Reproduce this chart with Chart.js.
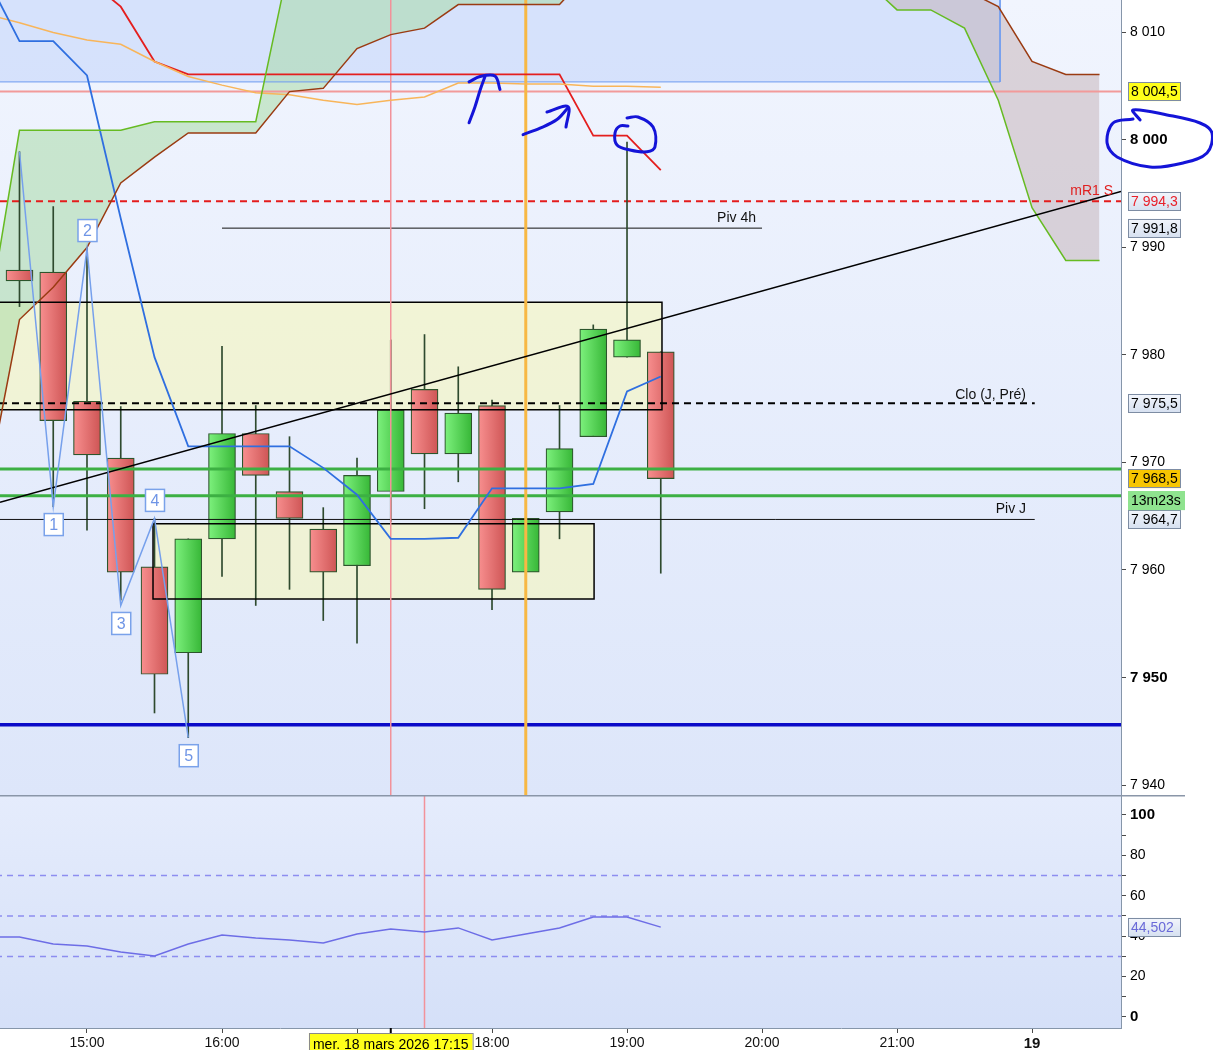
<!DOCTYPE html>
<html>
<head>
<meta charset="utf-8">
<script src="https://cdn.jsdelivr.net/npm/chart.js@4.4.1/dist/chart.umd.min.js"></script>
<style>
  html, body { margin: 0; padding: 0; background: #fff; }
  #wrap { position: relative; width: 1213px; height: 1050px; overflow: hidden; }
  #main { position: absolute; left: 0; top: 0; }
  #rsi { position: absolute; left: 0; top: 795px; }
</style>
</head>
<body>
<div id="wrap">
  <canvas id="main" width="1213" height="795"></canvas>
  <canvas id="rsi" width="1213" height="255"></canvas>
</div>
<script>
// ---- data (15 min candles, time in decimal hours) ----
const candleTimes = [14.5, 14.75, 15, 15.25, 15.5, 15.75, 16, 16.25, 16.5, 16.75, 17, 17.25, 17.5, 17.75, 18, 18.25, 18.5, 18.75, 19, 19.25];
const opens  = [7987.9, 7987.7, 7975.7, 7970.4, 7960.3, 7952.3, 7962.9, 7972.7, 7967.3, 7963.8, 7960.4, 7967.3, 7976.8, 7970.8, 7975.3, 7959.8, 7965.4, 7972.4, 7979.8, 7980.3];
const highs  = [7998.9, 7993.8, 7990.0, 7975.2, 7964.8, 7962.9, 7980.8, 7975.3, 7972.4, 7965.8, 7970.4, 7981.4, 7981.9, 7978.9, 7975.8, 7964.8, 7975.3, 7982.8, 7999.8, 7980.3];
const lows   = [7984.5, 7965.9, 7963.7, 7957.2, 7946.7, 7944.4, 7959.4, 7956.7, 7958.2, 7955.3, 7953.2, 7964.5, 7965.7, 7968.2, 7956.3, 7959.8, 7962.9, 7972.4, 7979.8, 7959.7];
const closes = [7986.9, 7973.9, 7970.7, 7959.8, 7950.3, 7962.9, 7972.7, 7968.8, 7964.8, 7959.8, 7968.8, 7974.9, 7970.8, 7974.6, 7958.2, 7964.8, 7971.3, 7982.4, 7981.4, 7968.5];

const indTimes = [14.25, 14.5, 14.75, 15, 15.25, 15.5, 15.75, 16, 16.25, 16.5, 16.75, 17, 17.25, 17.5, 17.75, 18, 18.25, 18.5, 18.75, 19, 19.25];
const kijun  = [8020, 8020, 8018, 8015, 8012.4, 8007.3, 8006.1, 8006.1, 8006.1, 8006.1, 8006.1, 8006.1, 8006.1, 8006.1, 8006.1, 8006.1, 8006.1, 8006.1, 8000.4, 8000.4, 7997.2];
const tenkan = [8015.3, 8009.2, 8009.2, 8006.0, 7992.7, 7979.8, 7971.5, 7971.5, 7971.5, 7971.5, 7969.5, 7967.0, 7962.9, 7962.9, 7963.0, 7967.6, 7967.6, 7967.6, 7968.0, 7976.6, 7978.0];
const avgLine = [8011.7, 8010.9, 8010.0, 8009.3, 8008.9, 8007.3, 8005.9, 8005.1, 8004.4, 8004.2, 8003.7, 8003.3, 8003.7, 8004.0, 8005.3, 8005.3, 8005.2, 8005.2, 8005.0, 8005.0, 8004.9];
const rsiValues = [39.6, 39.6, 36.1, 35.1, 32.2, 30.2, 36.1, 40.6, 39.1, 38.1, 36.6, 41.1, 43.6, 42.1, 44.1, 38.1, 41.1, 44.1, 49.5, 49.5, 44.5];

const cloudTimes = [14.25, 14.5, 14.75, 15, 15.25, 15.5, 15.75, 16, 16.25, 16.5, 16.75, 17, 17.25, 17.5, 17.75, 18, 18.25, 18.5, 18.75, 19, 19.25, 19.5, 19.75, 20, 20.25, 20.5, 20.75, 21, 21.25, 21.5, 21.75, 22, 22.25, 22.5];
const senkouA = [7982, 8000.9, 8000.9, 8000.9, 8000.9, 8001.7, 8001.7, 8001.7, 8001.7, 8016.6, 8020, 8022, 8022, 8022, 8022, 8022, 8022, 8022, 8022, 8022, 8022, 8020, 8020, 8020, 8018, 8017, 8015, 8012.1, 8012.1, 8010.4, 8003.7, 7993.7, 7988.8, 7988.8];
const senkouB = [7967, 7983.3, 7986.3, 7990.0, 7996.0, 7998.4, 8000.65, 8000.65, 8000.65, 8004.5, 8004.8, 8008.5, 8009.8, 8010.4, 8012.6, 8012.6, 8012.6, 8012.6, 8016, 8024, 8026, 8026, 8026, 8026, 8026, 8025, 8024, 8022, 8020, 8014, 8012.4, 8007.3, 8006.1, 8006.1];

// zigzag 1..5
const zigTimes = [14.5, 14.75, 15, 15.25, 15.5, 15.75];
const zigPrices = [7998.9, 7965.9, 7989.9, 7956.7, 7964.8, 7944.4];
const zigLabels = ['', '1', '2', '3', '4', '5'];

// levels
const levelR = 8004.5, levelMR1S = 7994.3, levelPiv4h = 7991.8, levelClo = 7975.5, levelPivJ = 7964.7;
const greenLevels = [7969.4, 7966.9];
const blueLevel = 7945.6;
const trendTimes = [14.3556, 22.659];
const trendPrices = [7966.3, 7995.2];
const upperZone = [7974.9, 7984.9];   // low, high, until 19:15
const lowerZone = [7957.3, 7964.3];   // low, high, 15:30 -> 18:45
const blueZoneBottom = 8005.4;

const priceTicks = [7940, 7950, 7960, 7970, 7980, 7990, 8000, 8010];
const rsiTicks = [0, 10, 20, 30, 40, 50, 60, 70, 80, 90, 100];
const rsiLevels = [70, 50, 30];
const timeTicks = [15, 16, 17, 18, 19, 20, 21, 22];

const tagValues = [8004.5, 7994.3, 7991.8, 7975.5, 7968.5, 7964.7];
const tagKinds  = ['yellow', 'red', 'plain', 'plain', 'gold', 'plain'];
const timerText = '13m23s';
const rsiLast = 44.502;
const cursorText = 'mer. 18 mars 2026 17:15';

// hand drawn marks (time, price)
const mark1 = [[17.830, 8001.6], [17.874, 8003.1], [17.911, 8004.6], [17.948, 8005.9]];
const mark1Head = [[17.830, 8005.4], [17.911, 8005.9], [18.022, 8005.95], [18.059, 8004.7]];
const mark2 = [[18.230, 8000.5], [18.356, 8001.1], [18.481, 8001.9], [18.563, 8003.0]];
const mark2Head = [[18.407, 8002.6], [18.563, 8003.1], [18.548, 8001.2]];
const markCircle = [[19.0, 8002.05], [19.081, 8002.14], [19.193, 8001.2], [19.207, 7999.35], [19.148, 7998.9], [19.022, 7999.07], [18.926, 7999.53], [18.911, 8000.65], [18.948, 8001.3], [19.007, 8001.3]];
const markEllipse = [[22.80, 8001.86], [22.748, 8002.79], [23.0, 8002.33], [23.244, 8001.58], [23.333, 8000.65], [23.296, 7998.79], [23.119, 7997.86], [22.874, 7997.49], [22.630, 7998.42], [22.556, 7999.72], [22.60, 8001.58], [22.748, 8001.95]];

// ---- helpers ----
const xMin = 14.3556, xMax = 22.659;
const FONT = '"Liberation Sans", Arial, sans-serif';
Chart.defaults.font.family = FONT;
Chart.defaults.color = '#000';

function fmt(v, dec) {
  const parts = v.toFixed(dec).split('.');
  parts[0] = parts[0].replace(/\B(?=(\d{3})+(?!\d))/g, ' ');
  return parts.join(',');
}
function pts(xs, ys) { return xs.map((x, i) => ({ x: x, y: ys[i] })); }
function pairs(arr) { return arr.map(p => ({ x: p[0], y: p[1] })); }
function line(data, style) {
  return Object.assign({ type: 'line', data: data, pointRadius: 0, fill: false, tension: 0 }, style);
}
function hline(v, x0, x1, style) { return line([{ x: x0, y: v }, { x: x1, y: v }], style); }
function vline(t, style) { return line([{ x: t, y: 7900 }, { x: t, y: 8050 }], style); }
function box(t0, t1, lo, hi) {
  return [{ x: t0, y: hi }, { x: t1, y: hi }, { x: t1, y: lo }, { x: t0, y: lo }, { x: t0, y: hi }];
}

function drawTag(ctx, x, y, w, text, kind) {
  const h = 19;
  let bg, fg = '#000', border = '#7d8ca3';
  if (kind === 'yellow') bg = '#ffff1a';
  else if (kind === 'gold') bg = '#f7c600';
  else if (kind === 'timer') { bg = '#8fe38f'; border = '#8fe38f'; }
  else {
    bg = ctx.createLinearGradient(0, y - h / 2, 0, y + h / 2);
    bg.addColorStop(0, '#f3f6fc');
    bg.addColorStop(1, '#d6e0f0');
  }
  if (kind === 'red') fg = '#e8202a';
  if (kind === 'rsi') fg = '#6a6ad8';
  ctx.save();
  ctx.fillStyle = bg;
  ctx.fillRect(x, y - h / 2, w, h);
  ctx.strokeStyle = border;
  ctx.lineWidth = 1;
  ctx.strokeRect(Math.round(x) + 0.5, Math.round(y - h / 2) + 0.5, w - 1, h - 1);
  ctx.fillStyle = fg;
  ctx.font = '14px ' + FONT;
  ctx.textAlign = 'left';
  ctx.textBaseline = 'middle';
  ctx.fillText(text, x + 3, y + 1);
  ctx.restore();
}

// ---- main price chart ----
const mainPlugin = {
  id: 'mainDecor',
  beforeDraw(chart) {
    const { ctx, chartArea: a } = chart;
    const g = ctx.createLinearGradient(0, a.top, 0, a.bottom);
    g.addColorStop(0, '#f1f5fe');
    g.addColorStop(1, '#dde6fa');
    ctx.save();
    ctx.fillStyle = g;
    ctx.fillRect(a.left, a.top, a.right - a.left, a.bottom - a.top);
    ctx.restore();
  },
  afterDraw(chart) {
    const { ctx, chartArea: a, scales } = chart;
    const xs = scales.x, ys = scales.y;
    ctx.save();
    ctx.font = '14px ' + FONT;
    ctx.textAlign = 'right';
    ctx.textBaseline = 'bottom';
    // level names
    ctx.fillStyle = '#e02020';
    ctx.fillText('mR1 S', a.right - 8, ys.getPixelForValue(levelMR1S) - 3);
    ctx.fillStyle = '#111';
    ctx.fillText('Piv 4h', xs.getPixelForValue(20.0) - 6, ys.getPixelForValue(levelPiv4h) - 3);
    ctx.fillText('Clo (J, Pré)', xs.getPixelForValue(22.0) - 6, ys.getPixelForValue(levelClo) - 1);
    ctx.fillText('Piv J', xs.getPixelForValue(22.0) - 6, ys.getPixelForValue(levelPivJ) - 3);

    // zigzag number boxes
    ctx.font = '16px ' + FONT;
    ctx.textAlign = 'center';
    ctx.textBaseline = 'middle';
    zigLabels.forEach((lab, i) => {
      if (!lab) return;
      const px = xs.getPixelForValue(zigTimes[i]);
      const prev = zigPrices[i - 1];
      const below = zigPrices[i] < prev;
      const py = ys.getPixelForValue(zigPrices[i]) + (below ? 18 : -18);
      ctx.fillStyle = '#fff';
      ctx.fillRect(px - 9, py - 11, 19, 22);
      ctx.strokeStyle = '#7aa2ea';
      ctx.lineWidth = 1.5;
      ctx.strokeRect(px - 9, py - 11, 19, 22);
      ctx.fillStyle = '#6f95e6';
      ctx.fillText(lab, px + 0.5, py + 1);
    });

    // price tags on the axis
    const tx = a.right + 7;
    tagValues.forEach((v, i) => {
      drawTag(ctx, tx, ys.getPixelForValue(v), 53, fmt(v, 1), tagKinds[i]);
    });
    drawTag(ctx, tx, ys.getPixelForValue(7968.5) + 22, 57, timerText, 'timer');
    ctx.restore();
  }
};

const bodyFill = (c) => {
  const chart = c.chart;
  const i = c.dataIndex;
  const up = closes[i] >= opens[i];
  const flat = up ? '#55d055' : '#e87070';
  if (i === undefined || !chart.scales || !chart.scales.x) return flat;
  const px = chart.scales.x.getPixelForValue(candleTimes[i]);
  if (!isFinite(px)) return flat;
  const g = chart.ctx.createLinearGradient(px - 13, 0, px + 13, 0);
  g.addColorStop(0, up ? '#7cf07c' : '#f78e8e');
  g.addColorStop(1, up ? '#38b838' : '#cf5656');
  return g;
};

const hand = { borderColor: '#1414d8', borderWidth: 3, tension: 0.35, clip: false, borderCapStyle: 'round', borderJoinStyle: 'round' };

new Chart(document.getElementById('main'), {
  type: 'line',
  data: {
    datasets: [
      line(box(14.0, 21.763, blueZoneBottom, 8030), { fill: 'shape', backgroundColor: 'rgba(196,213,250,0.6)', borderColor: '#6f9cf0', borderWidth: 1, order: 100 }),
      line(pts(cloudTimes, senkouA), { borderColor: '#66bb22', borderWidth: 1.5, order: 16,
        fill: { target: '+1', above: 'rgba(170,218,168,0.55)', below: 'rgba(190,168,172,0.45)' } }),
      line(pts(cloudTimes, senkouB), { borderColor: '#9a3b12', borderWidth: 1.5, order: 16 }),
      line(box(14.0, 19.259, upperZone[0], upperZone[1]), { fill: 'shape', backgroundColor: 'rgba(246,246,188,0.6)', borderColor: '#000', borderWidth: 1.5, order: 30 }),
      line(box(15.489, 18.756, lowerZone[0], lowerZone[1]), { fill: 'shape', backgroundColor: 'rgba(246,246,188,0.6)', borderColor: '#000', borderWidth: 1.5, order: 30 }),
      hline(levelR, 14.0, 23.0, { borderColor: '#f29a9a', borderWidth: 2, order: 85 }),
      hline(levelMR1S, 14.0, 23.0, { borderColor: '#e41c1c', borderWidth: 2, borderDash: [7, 5], order: 84 }),
      hline(levelPiv4h, 16.0, 20.0, { borderColor: '#111', borderWidth: 1, order: 83 }),
      { type: 'bar', data: candleTimes.map((t, i) => ({ x: t, y: [lows[i], highs[i]] })), backgroundColor: '#2e4a2e', barThickness: 1, grouped: false, order: 41 },
      { type: 'bar', data: candleTimes.map((t, i) => ({ x: t, y: [opens[i], closes[i]] })), backgroundColor: bodyFill, borderColor: '#2c552c', borderWidth: 1.2, borderSkipped: false, barThickness: 27, grouped: false, order: 40 },
      hline(levelClo, 14.0, 22.02, { borderColor: '#000', borderWidth: 2, borderDash: [7, 5], order: 29 }),
      hline(levelPivJ, 14.0, 22.02, { borderColor: '#111', borderWidth: 1, order: 28 }),
      hline(greenLevels[0], 14.0, 23.0, { borderColor: '#3cb043', borderWidth: 3, order: 27 }),
      hline(greenLevels[1], 14.0, 23.0, { borderColor: '#3cb043', borderWidth: 3, order: 27 }),
      hline(blueLevel, 14.0, 23.0, { borderColor: '#0a0ac8', borderWidth: 3.5, order: 26 }),
      vline(17.25, { borderColor: '#f2929a', borderWidth: 1.5, order: 25 }),
      vline(18.25, { borderColor: '#f7b844', borderWidth: 3, order: 24 }),
      line(pts(indTimes, kijun), { borderColor: '#e41e1e', borderWidth: 1.8, order: 20 }),
      line(pts(indTimes, avgLine), { borderColor: '#f8b55a', borderWidth: 1.5, order: 19 }),
      line(pts(indTimes, tenkan), { borderColor: '#2f6fe0', borderWidth: 1.8, order: 18 }),
      line(pts(trendTimes, trendPrices), { borderColor: '#000', borderWidth: 1.5, order: 15 }),
      line(pts(zigTimes, zigPrices), { borderColor: '#76a0ec', borderWidth: 1.5, order: 12 }),
      line(pairs(mark1), Object.assign({ order: 5 }, hand)),
      line(pairs(mark1Head), Object.assign({ order: 5 }, hand)),
      line(pairs(mark2), Object.assign({ order: 5 }, hand)),
      line(pairs(mark2Head), Object.assign({ order: 5 }, hand)),
      line(pairs(markCircle), Object.assign({ order: 5 }, hand)),
      line(pairs(markEllipse), Object.assign({ order: 5 }, hand))
    ]
  },
  options: {
    responsive: false,
    animation: false,
    events: [],
    layout: { padding: 0 },
    plugins: {
      legend: { display: false },
      tooltip: { enabled: false },
      filler: { drawTime: 'beforeDatasetsDraw' }
    },
    scales: {
      x: { type: 'linear', display: false, min: xMin, max: xMax, offset: false },
      y: {
        type: 'linear', position: 'right', min: 7939.07, max: 8013.02,
        border: { color: '#8696aa', width: 1 },
        grid: { drawOnChartArea: false, tickLength: 5, color: '#4a4a4a', tickColor: '#4a4a4a' },
        afterBuildTicks: (s) => { s.ticks = priceTicks.map(v => ({ value: v })); },
        afterFit: (s) => { s.width = 92; s.paddingTop = 0; s.paddingBottom = 0; },
        ticks: {
          padding: 4, color: '#000',
          font: (c) => (c.tick && c.tick.value % 50 === 0) ? { size: 15, weight: 'bold' } : { size: 14 },
          callback: (v) => fmt(v, 0)
        }
      }
    }
  },
  plugins: [mainPlugin]
});

// ---- RSI panel ----
const rsiPlugin = {
  id: 'rsiDecor',
  beforeDraw(chart) {
    const { ctx, chartArea: a } = chart;
    const g = ctx.createLinearGradient(0, a.top, 0, a.bottom);
    g.addColorStop(0, '#e5ecfc');
    g.addColorStop(1, '#d5e0f8');
    ctx.save();
    ctx.fillStyle = g;
    ctx.fillRect(a.left, a.top, a.right - a.left, a.bottom - a.top);
    ctx.restore();
  },
  afterDraw(chart) {
    const { ctx, chartArea: a, scales } = chart;
    const xs = scales.x, ys = scales.y;
    ctx.save();
    // separator with the price panel
    ctx.strokeStyle = '#8a96a8';
    ctx.lineWidth = 1.5;
    ctx.beginPath();
    ctx.moveTo(0, 0.75);
    ctx.lineTo(a.right + 64, 0.75);
    ctx.stroke();
    // last RSI value tag
    drawTag(ctx, a.right + 7, ys.getPixelForValue(rsiLast), 53, fmt(rsiLast, 3), 'rsi');
    // cursor time on the time axis
    const cx = xs.getPixelForValue(17.25);
    ctx.strokeStyle = '#000';
    ctx.lineWidth = 2;
    ctx.beginPath();
    ctx.moveTo(cx, a.bottom);
    ctx.lineTo(cx, a.bottom + 6);
    ctx.stroke();
    ctx.font = '14px ' + FONT;
    const w = ctx.measureText(cursorText).width + 8;
    ctx.fillStyle = '#ffff1a';
    ctx.fillRect(cx - w / 2, a.bottom + 5, w, 22);
    ctx.strokeStyle = '#8a8a8a';
    ctx.lineWidth = 1;
    ctx.strokeRect(Math.round(cx - w / 2) + 0.5, a.bottom + 5.5, w, 22);
    ctx.fillStyle = '#000';
    ctx.textAlign = 'center';
    ctx.textBaseline = 'middle';
    ctx.fillText(cursorText, cx, a.bottom + 17);
    ctx.restore();
  }
};

new Chart(document.getElementById('rsi'), {
  type: 'line',
  data: {
    datasets: [
      hline(rsiLevels[0], 14.0, 23.0, { borderColor: '#8d8df0', borderWidth: 1.5, borderDash: [6, 5], order: 10 }),
      hline(rsiLevels[1], 14.0, 23.0, { borderColor: '#8d8df0', borderWidth: 1.5, borderDash: [6, 5], order: 10 }),
      hline(rsiLevels[2], 14.0, 23.0, { borderColor: '#8d8df0', borderWidth: 1.5, borderDash: [6, 5], order: 10 }),
      line([{ x: 17.5, y: -20 }, { x: 17.5, y: 130 }], { borderColor: '#f2929a', borderWidth: 1.5, order: 8 }),
      line(pts(indTimes, rsiValues), { borderColor: '#6d6de6', borderWidth: 1.5, order: 5 })
    ]
  },
  options: {
    responsive: false,
    animation: false,
    events: [],
    layout: { padding: 0 },
    plugins: { legend: { display: false }, tooltip: { enabled: false } },
    scales: {
      x: {
        type: 'linear', min: xMin, max: xMax, offset: false,
        border: { color: '#8696aa', width: 1 },
        grid: { drawOnChartArea: false, tickLength: 5, color: '#4a4a4a', tickColor: '#4a4a4a' },
        afterBuildTicks: (s) => { s.ticks = timeTicks.map(v => ({ value: v })); },
        afterFit: (s) => { s.height = 22; s.paddingLeft = 0; s.paddingRight = 0; },
        ticks: {
          padding: 2, color: '#111', maxRotation: 0, autoSkip: false,
          font: (c) => (c.tick && c.tick.value === 22) ? { size: 15, weight: 'bold' } : { size: 14 },
          callback: (v) => v === 22 ? '19' : v + ':00'
        }
      },
      y: {
        type: 'linear', position: 'right', min: -5.45, max: 109.9,
        border: { color: '#8696aa', width: 1 },
        grid: { drawOnChartArea: false, tickLength: 5, color: '#4a4a4a', tickColor: '#4a4a4a' },
        afterBuildTicks: (s) => { s.ticks = rsiTicks.map(v => ({ value: v })); },
        afterFit: (s) => { s.width = 92; s.paddingTop = 0; s.paddingBottom = 0; },
        ticks: {
          padding: 4, color: '#000', autoSkip: false,
          font: (c) => (c.tick && (c.tick.value === 0 || c.tick.value === 100)) ? { size: 15, weight: 'bold' } : { size: 14 },
          callback: (v) => v % 20 === 0 ? String(v) : ''
        }
      }
    }
  },
  plugins: [rsiPlugin]
});
</script>
</body>
</html>
